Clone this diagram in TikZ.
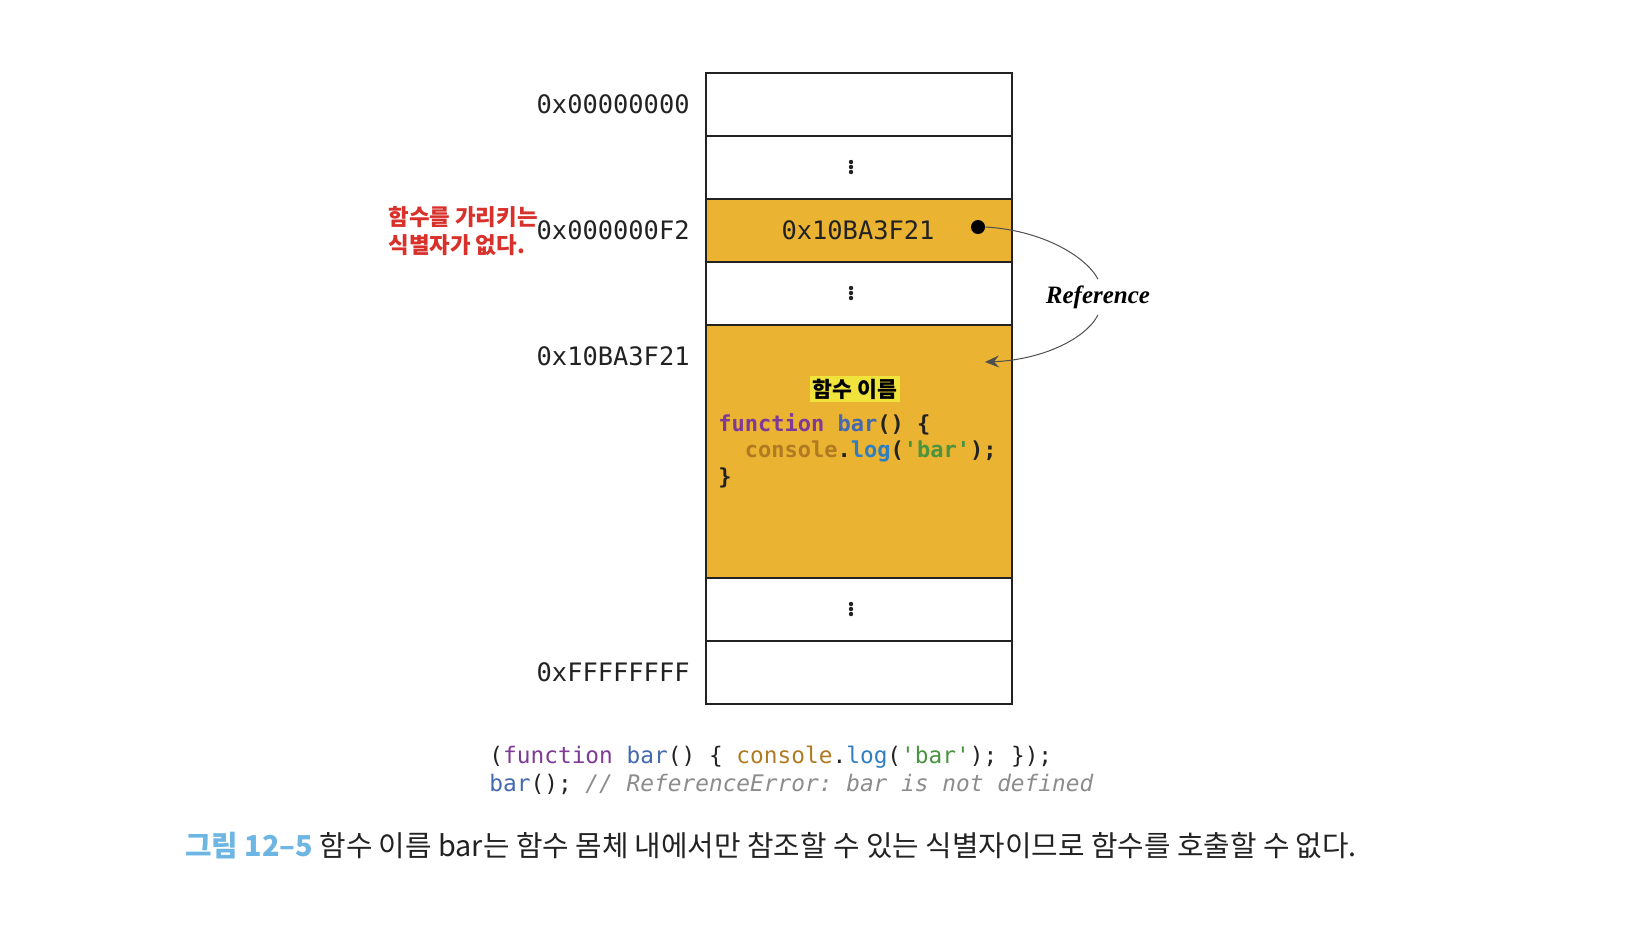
\documentclass[tikz,border=0pt]{standalone}
\usepackage{fontspec}
\setmainfont{Liberation Serif}
\setmonofont{DejaVu Sans Mono}
\newfontfamily\kr{Noto Sans CJK KR}
\usetikzlibrary{arrows.meta}
\definecolor{memfill}{HTML}{EAB332}
\definecolor{warnred}{HTML}{D8302A}
\definecolor{hilite}{HTML}{EFE33C}
\definecolor{kwpurple}{HTML}{7E3A96}
\definecolor{fnblue}{HTML}{4469B0}
\definecolor{objbrown}{HTML}{B07A22}
\definecolor{logblue}{HTML}{2F7FC0}
\definecolor{strgreen}{HTML}{4A9440}
\definecolor{capblue}{HTML}{6DB5E2}
\definecolor{ink}{HTML}{222222}
\tikzset{cell/.style={draw=ink, line width=1pt, minimum width=153pt, minimum height=31.5pt, inner sep=0pt, outer sep=0pt}}
\tikzset{addr/.style={anchor=east, inner sep=0pt, font=\fontsize{12.7}{14}\ttfamily, text=ink}}
\tikzset{vdot/.style={circle, fill=ink, inner sep=0pt, minimum size=2.2pt}}
\tikzset{codeline/.style={anchor=west, inner sep=0pt, font=\fontsize{11}{13}\ttfamily\bfseries}}

\begin{document}
\begin{tikzpicture}[x=0.5pt, y=-0.5pt]
  \useasboundingbox (0,0) rectangle (1625,934);
  % memory cells
  \node[cell] (m0) at (859,104.5) {};
  \node[cell] (m1) at (859,167.5) {};
  \node[cell, fill=memfill] (m2) at (859,230.5) {};
  \node[cell] (m3) at (859,293.5) {};
  \node[cell, fill=memfill, minimum height=126.5pt] (m4) at (859,451.5) {};
  \node[cell] (m5) at (859,609.5) {};
  \node[cell] (m6) at (859,672.5) {};

  % skipped cells
  \foreach \y in {167,293,609} {
    \foreach \d in {-5,0,5} {
      \node[vdot] at (851,\y+\d) {};
    }
  }

  % addresses
  \node[addr] (a0) at (690,104.5) {0x00000000};
  \node[addr] (a2) at (690,230.5) {0x000000F2};
  \node[addr] (a4) at (690,356.5) {0x10BA3F21};
  \node[addr] (a6) at (690,672.5) {0xFFFFFFFF};

  \node[inner sep=0pt, font=\fontsize{12.7}{14}\ttfamily, text=ink] (val) at (858,230.5) {0x10BA3F21};
  \node[circle, fill=black, inner sep=0pt, minimum size=7pt] (dot) at (978,227) {};

  \node[anchor=west, align=left, inner sep=0pt, text=warnred,
    font=\fontsize{11.2}{13.8}\kr\bfseries] (nolabel) at (388,231) {함수를 가리키는\\식별자가 없다.};

  % reference arrow
  \node[inner sep=0pt, font=\fontsize{12.5}{14}\bfseries\itshape] (ref) at (1098,297) {Reference};
  \coordinate (tip) at (985,362);
  \draw[ink!80, line width=0.5pt] (dot.east) .. controls (1040,230) and (1085,255) .. ([yshift=3pt]ref.north);
  \draw[ink!80, line width=0.5pt, -{Stealth[length=7pt, width=6pt, inset=2.5pt]}]
    ([yshift=-3pt]ref.south) .. controls (1085,340) and (1040,360) .. (tip);

  % function body
  \node[fill=hilite, inner sep=1.5pt, font=\fontsize{10.8}{13}\kr\bfseries] (fname) at (855,389) {함수 이름};
  \node[codeline] (c1) at (718,424) {\textcolor{kwpurple}{function} \textcolor{fnblue}{bar}\textcolor{ink}{() \{}};
  \node[codeline] (c2) at (718,451) {\phantom{xx}\textcolor{objbrown}{console}\textcolor{ink}{.}\textcolor{logblue}{log}\textcolor{ink}{(}\textcolor{strgreen}{'bar'}\textcolor{ink}{);}};
  \node[codeline] (c3) at (718,478) {\textcolor{ink}{\}}};

  % source code
  \node[anchor=west, inner sep=0pt, font=\fontsize{11.4}{13}\ttfamily] (s1) at (489,757)
    {\textcolor{ink}{(}\textcolor{kwpurple}{function} \textcolor{fnblue}{bar}\textcolor{ink}{() \{ }\textcolor{objbrown}{console}\textcolor{ink}{.}\textcolor{logblue}{log}\textcolor{ink}{(}\textcolor{strgreen}{'bar'}\textcolor{ink}{); \});}};
  \node[anchor=west, inner sep=0pt, font=\fontsize{11.4}{13}\ttfamily] (s2) at (489,784)
    {\textcolor{fnblue}{bar}\textcolor{ink}{(); }\textcolor{black!45}{\itshape // ReferenceError: bar is not defined}};

  % caption
  \node[inner sep=0pt, font=\fontsize{14.4}{17}\kr] (cap) at (771,846)
    {\textcolor{capblue}{\bfseries 그림 12–5} \textcolor{ink}{함수 이름 bar는 함수 몸체 내에서만 참조할 수 있는 식별자이므로 함수를 호출할 수 없다.}};
\end{tikzpicture}
\end{document}
